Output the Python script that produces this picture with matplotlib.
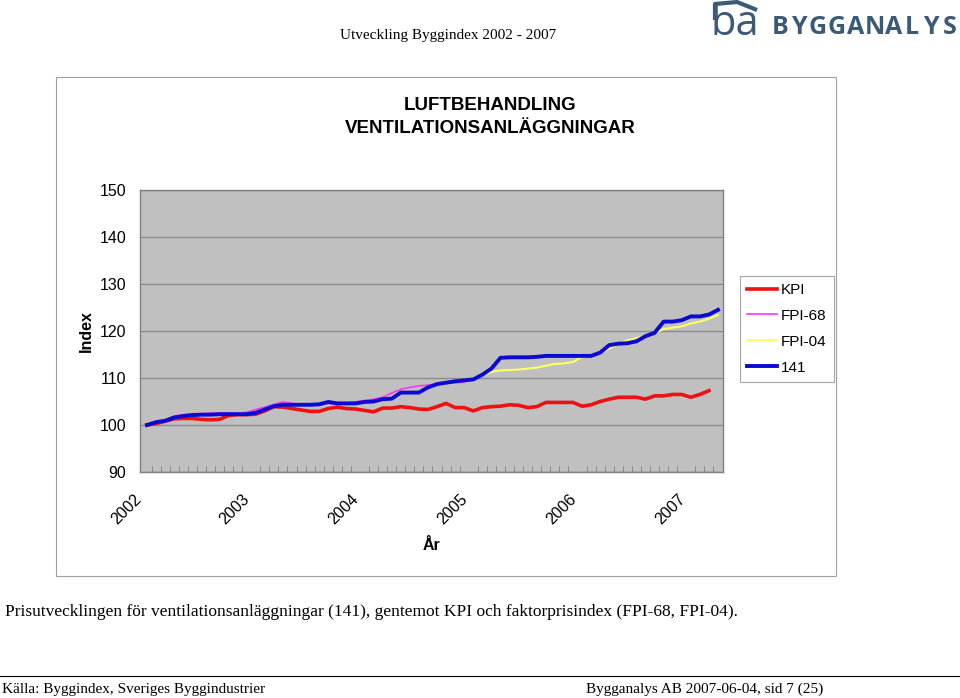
import matplotlib.pyplot as plt
import matplotlib.transforms as mtransforms
from matplotlib.patches import Rectangle
from matplotlib.lines import Line2D

W, H = 960, 698

# monthly index, jan 2002 = 100
kpi = [100.0, 100.3, 100.8, 101.3, 101.4, 101.4, 101.2, 101.1, 101.2, 102.0, 102.2, 102.2,
       102.3, 103.0, 103.9, 103.8, 103.5, 103.2, 102.9, 102.9, 103.5, 103.8, 103.5, 103.4,
       103.1, 102.8, 103.6, 103.6, 103.9, 103.7, 103.4, 103.3, 103.9, 104.6, 103.7, 103.7,
       103.0, 103.7, 103.9, 104.0, 104.3, 104.2, 103.7, 103.9, 104.8, 104.8, 104.8, 104.8,
       104.0, 104.3, 105.0, 105.5, 105.9, 105.9, 105.9, 105.5, 106.2, 106.2, 106.5, 106.5,
       105.9, 106.5, 107.3]
fpi68 = [100.0, 100.5, 101.0, 101.9, 102.2, 102.4, 102.4, 102.5, 102.5, 102.5, 102.5, 102.7,
         103.3, 103.8, 104.4, 104.9, 104.6, 104.3, 104.3, 104.4, 104.6, 104.5, 104.6, 104.9,
         105.2, 105.5, 105.9, 106.8, 107.6, 108.0, 108.3, 108.5, 108.7, 108.9, 109.0, 109.1]
fpi04 = [109.7, 110.5, 111.3, 111.6, 111.7, 111.8, 112.0, 112.2, 112.6, 113.0, 113.1, 113.4,
         114.5, 114.7, 115.3, 116.3, 117.2, 118.0, 118.5, 119.0, 119.6, 120.4, 120.7, 121.0,
         121.6, 122.0, 122.6, 123.4]
idx141 = [100.0, 100.6, 100.9, 101.6, 101.9, 102.1, 102.2, 102.2, 102.3, 102.3, 102.3, 102.3,
          102.6, 103.3, 104.0, 104.3, 104.3, 104.3, 104.3, 104.4, 104.9, 104.6, 104.6, 104.6,
          104.9, 105.0, 105.5, 105.6, 106.9, 106.9, 106.9, 108.0, 108.7, 109.0, 109.3, 109.5,
          109.7, 110.7, 112.0, 114.3, 114.4, 114.4, 114.4, 114.5, 114.7, 114.7, 114.7, 114.7,
          114.7, 114.7, 115.4, 117.0, 117.3, 117.4, 117.8, 118.9, 119.6, 122.0, 122.0, 122.3,
          123.1, 123.1, 123.5, 124.5]
years = ["2002", "2003", "2004", "2005", "2006", "2007"]
fpi04_start = 36

fig = plt.figure(figsize=(W / 100, H / 100), dpi=100)
fig.patch.set_facecolor("white")


def fx(px):
    return px / W


def fy(py):
    return 1 - py / H


# chart frame
fig.add_artist(Rectangle((fx(56), fy(576)), fx(836) - fx(56), fy(77) - fy(576),
                         transform=fig.transFigure, fill=False, edgecolor="#a0a0a0", lw=0.8))

ax = fig.add_axes([fx(140), fy(472), fx(723) - fx(140), fy(190) - fy(472)])
ax.set_facecolor("#c0c0c0")
for s in ax.spines.values():
    s.set_color("#808080")
    s.set_linewidth(1.0)

ax.set_ylim(90, 150)
ax.set_yticks(range(90, 151, 10))
ax.yaxis.grid(True, color="#8c8c8c", lw=1.0)
ax.set_axisbelow(True)
ax.tick_params(axis="y", length=0, pad=10, labelsize=11.5)
for lab in ax.get_yticklabels():
    lab.set_fontfamily("Liberation Sans")

x_kpi = list(range(len(kpi)))
x68 = list(range(len(fpi68)))
x04 = list(range(fpi04_start, fpi04_start + len(fpi04)))
x141 = list(range(len(idx141)))

ax.plot(x_kpi, kpi, color="#ee1111", lw=2.6, label="KPI", solid_joinstyle="round")
ax.plot(x68, fpi68, color="#ff33ff", lw=1.2, label="FPI-68")
ax.plot(x04, fpi04, color="#ffff66", lw=1.5, label="FPI-04")
ax.plot(x141, idx141, color="#0a0ad2", lw=2.8, label="141", solid_joinstyle="round")

ax.set_xlim(-0.77, 63.55)
ax.set_xticks([m - 0.5 for m in range(0, 64)], minor=True)
ax.set_xticks([12 * k - 0.5 for k in range(len(years))])
ax.set_xticklabels(years, rotation=45, ha="right", va="top", rotation_mode="anchor",
                   fontsize=11.5, fontfamily="Liberation Sans")
ax.tick_params(axis="x", which="major", length=0, pad=14)
ax.tick_params(axis="x", which="minor", length=4, color="#808080", direction="in")
shift = mtransforms.ScaledTranslation(-0.09, 0.0, fig.dpi_scale_trans)
for lab in ax.get_xticklabels():
    lab.set_transform(lab.get_transform() + shift)

fig.text(fx(432), fy(546), "År", ha="center", va="center", fontsize=11.5,
         fontweight="bold", fontfamily="Liberation Sans")
fig.text(fx(86), fy(331), "Index", ha="center", va="center", rotation=90, fontsize=11.5,
         fontweight="bold", fontfamily="Liberation Sans")
fig.text(fx(490), fy(117), "LUFTBEHANDLING\nVENTILATIONSANLÄGGNINGAR", ha="center",
         va="center", fontsize=13.5, fontweight="bold", fontfamily="Liberation Sans",
         linespacing=1.5)

leg = ax.legend(loc="upper left", bbox_to_anchor=(fx(740), fy(276)),
                bbox_transform=fig.transFigure, frameon=True, fancybox=False,
                prop={"family": "Liberation Sans", "size": 11}, handlelength=2.0,
                handletextpad=0.25, labelspacing=0.78, borderpad=0.45, borderaxespad=0)
leg.get_frame().set_edgecolor("#909090")
leg.get_frame().set_linewidth(0.8)

# page texts
fig.text(fx(448), fy(35), "Utveckling Byggindex 2002 - 2007", ha="center", va="center",
         fontsize=11, fontfamily="Liberation Serif")
fig.text(fx(5), fy(612), "Prisutvecklingen för ventilationsanläggningar (141), gentemot KPI "
         "och faktorprisindex (FPI-68, FPI-04).", ha="left", va="center", fontsize=12.5,
         fontfamily="Liberation Serif")
fig.add_artist(Line2D([0, 1], [fy(676), fy(676)], transform=fig.transFigure,
                      color="#000000", lw=0.8))
fig.text(fx(2), fy(689), "Källa: Byggindex, Sveriges Byggindustrier", ha="left", va="center",
         fontsize=11, fontfamily="Liberation Serif")
fig.text(fx(823), fy(689), "Bygganalys AB 2007-06-04, sid 7 (25)", ha="right", va="center",
         fontsize=11, fontfamily="Liberation Serif")

# logo, letter-spaced
logo = "#3b5a76"
fig.text(fx(710), fy(24), "ba", ha="left", va="center", fontsize=30, color=logo,
         fontfamily="Open Sans")
fig.add_artist(Line2D([fx(715), fx(715), fx(737), fx(757)], [fy(20), fy(4), fy(2), fy(10)],
                      transform=fig.transFigure, color=logo, lw=3, solid_capstyle="butt"))
for k, ch in enumerate("BYGGANALYS"):
    fig.text(fx(780 + k * 18.9), fy(27), ch, ha="center", va="center", fontsize=18,
             fontweight="bold", color=logo, fontfamily="Open Sans")

fig.savefig("out.png", dpi=100, facecolor="white")
